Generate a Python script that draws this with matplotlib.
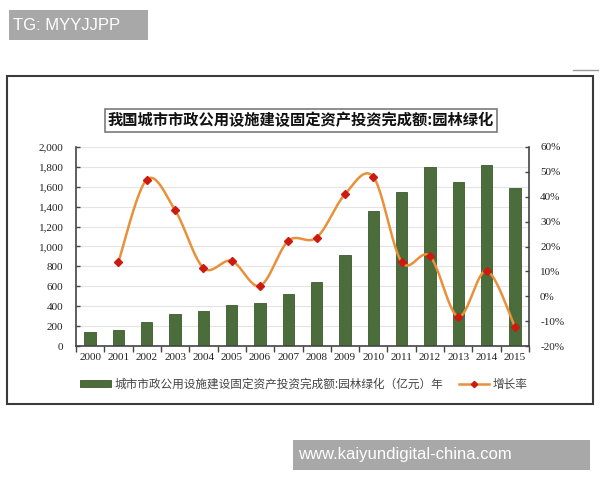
import numpy as np
import matplotlib
matplotlib.use("Agg")
import matplotlib.pyplot as plt
from matplotlib.patches import Rectangle
from matplotlib.lines import Line2D
from matplotlib.ticker import FuncFormatter, FixedLocator

plt.rcParams['font.family'] = ['Noto Sans CJK SC', 'DejaVu Sans']

# ---- data ----
years = ["2000", "2001", "2002", "2003", "2004", "2005", "2006", "2007",
         "2008", "2009", "2010", "2011", "2012", "2013", "2014", "2015"]
investment = [140, 160, 241, 318, 355, 408, 428, 518,
              645, 913, 1355, 1545, 1799, 1649, 1823, 1592]
growth_years = years[1:]
growth = [13.9, 46.9, 34.6, 11.4, 14.2, 4.2, 22.3,
          23.6, 41.0, 48.0, 13.8, 16.1, -8.2, 10.2, -12.2]
title = "我国城市市政公用设施建设固定资产投资完成额:园林绿化"
bar_label = "城市市政公用设施建设固定资产投资完成额:园林绿化（亿元）年"
line_label = "增长率"

BAR = "#4b6c3b"
BAR_EDGE = "#3c5a2e"
LINE = "#e8913a"
MARK = "#cc1a10"
AXC = "#444444"
SERIF = ['Liberation Serif', 'DejaVu Serif']


def catmull_rom(xs, ys, n=24):
    p = np.column_stack([xs, ys]).astype(float)
    p = np.vstack([p[0], p, p[-1]])
    out = []
    t = np.linspace(0, 1, n, endpoint=False)[:, None]
    for i in range(1, len(p) - 2):
        p0, p1, p2, p3 = p[i - 1], p[i], p[i + 1], p[i + 2]
        seg = 0.5 * ((2 * p1) + (-p0 + p2) * t + (2 * p0 - 5 * p1 + 4 * p2 - p3) * t ** 2
                     + (-p0 + 3 * p1 - 3 * p2 + p3) * t ** 3)
        out.append(seg)
    out.append(p[-2][None, :])
    out = np.vstack(out)
    return out[:, 0], out[:, 1]


fig = plt.figure(figsize=(6, 4.8), dpi=100)
fig.patch.set_facecolor("white")

# outer frame
fig.add_artist(Rectangle((7 / 600, 1 - 404 / 480), 586 / 600, 328 / 480,
                         transform=fig.transFigure, fill=False,
                         edgecolor="#3a3a3a", linewidth=1.5))
# small line at top right
fig.add_artist(Line2D([573 / 600, 598 / 600], [1 - 70 / 480, 1 - 70 / 480],
                      transform=fig.transFigure, color="#9a9a9a", linewidth=1))

ax = fig.add_axes([76 / 600, 1 - 346 / 480, 453 / 600, 199 / 480])
x = np.arange(len(years))
ax.bar(x, investment, width=0.4, color=BAR, edgecolor=BAR_EDGE, linewidth=0.6,
       zorder=2, label=bar_label)
ax.set_xlim(-0.5, len(years) - 0.5)
ax.set_ylim(0, 2000)
ax.set_yticks(np.arange(0, 2001, 200))
ax.yaxis.set_major_formatter(FuncFormatter(lambda v, p: f"{int(v):,}"))
ax.grid(axis="y", color="#e4e4e4", linewidth=0.8, zorder=0)
ax.set_axisbelow(True)
ax.set_xticks(x)
ax.set_xticklabels(years)
ax.xaxis.set_minor_locator(FixedLocator(np.arange(-0.5, len(years), 1)))
ax.tick_params(axis="x", which="major", length=0, pad=5, labelsize=8, colors="#222222")
ax.tick_params(axis="x", which="minor", length=4, direction="out", color=AXC, width=1)
ax.tick_params(axis="y", length=3, direction="in", color=AXC, width=1,
               labelsize=8, labelcolor="#222222", pad=9)
for lab in ax.get_xticklabels() + ax.get_yticklabels():
    lab.set_family(SERIF)
for s in ["top", "right"]:
    ax.spines[s].set_visible(False)
for s in ["left", "bottom"]:
    ax.spines[s].set_color(AXC)
    ax.spines[s].set_linewidth(1.2)

ax2 = ax.twinx()
gx = np.array([years.index(y) for y in growth_years])
sx, sy = catmull_rom(gx, growth)
ax2.plot(sx, sy, color=LINE, linewidth=1.8, zorder=3)
ax2.plot(gx, growth, linestyle="none", marker="D", markersize=3.8,
         color=MARK, zorder=4)
ax2.set_ylim(-20, 60)
ax2.set_yticks(np.arange(-20, 61, 10))
ax2.yaxis.set_major_formatter(FuncFormatter(lambda v, p: f"{int(v)}%"))
ax2.tick_params(axis="y", length=3, direction="in", color=AXC, width=1,
                labelsize=8, labelcolor="#222222", pad=8)
for lab in ax2.get_yticklabels():
    lab.set_family(SERIF)
for s in ["top", "left", "bottom"]:
    ax2.spines[s].set_visible(False)
ax2.spines["right"].set_color(AXC)
ax2.spines["right"].set_linewidth(1.2)
ax2.set_xlim(-0.5, len(years) - 0.5)

# title box
fig.text(301 / 600, 1 - 120.5 / 480, title, ha="center", va="center",
         fontsize=11, fontweight="bold", color="#111111",
         bbox=dict(boxstyle="square,pad=0.22", facecolor="white",
                   edgecolor="#7a7a7a", linewidth=1.2))

# legend
h_bar = Rectangle((0, 0), 1, 1, facecolor=BAR, edgecolor=BAR_EDGE, linewidth=0.6)
h_line = Line2D([], [], color=LINE, linewidth=1.8, marker="D", markersize=3.2,
                markerfacecolor=MARK, markeredgecolor=MARK)
leg = fig.legend([h_bar, h_line], [bar_label, line_label], loc="center",
                 bbox_to_anchor=(304 / 600, 1 - 384 / 480), ncol=2, frameon=False,
                 fontsize=8.4, handlelength=2.6, handleheight=0.5,
                 handletextpad=0.3, columnspacing=1.4, labelcolor="#444444")

# watermarks
fig.add_artist(Rectangle((9 / 600, 1 - 40 / 480), 139 / 600, 30 / 480,
                         transform=fig.transFigure, facecolor="#a8a8a8",
                         edgecolor="none"))
fig.text(13 / 600, 1 - 25 / 480, "TG: MYYJJPP", ha="left", va="center",
         fontsize=12, color="white", family=["Liberation Sans", "DejaVu Sans"])
fig.add_artist(Rectangle((293 / 600, 1 - 470 / 480), 297 / 600, 30 / 480,
                         transform=fig.transFigure, facecolor="#a8a8a8",
                         edgecolor="none"))
fig.text(298 / 600, 1 - 455 / 480, "www.kaiyundigital-china.com", ha="left",
         va="center", fontsize=12, color="white",
         family=["Liberation Sans", "DejaVu Sans"])

fig.savefig("out.png", dpi=100)
